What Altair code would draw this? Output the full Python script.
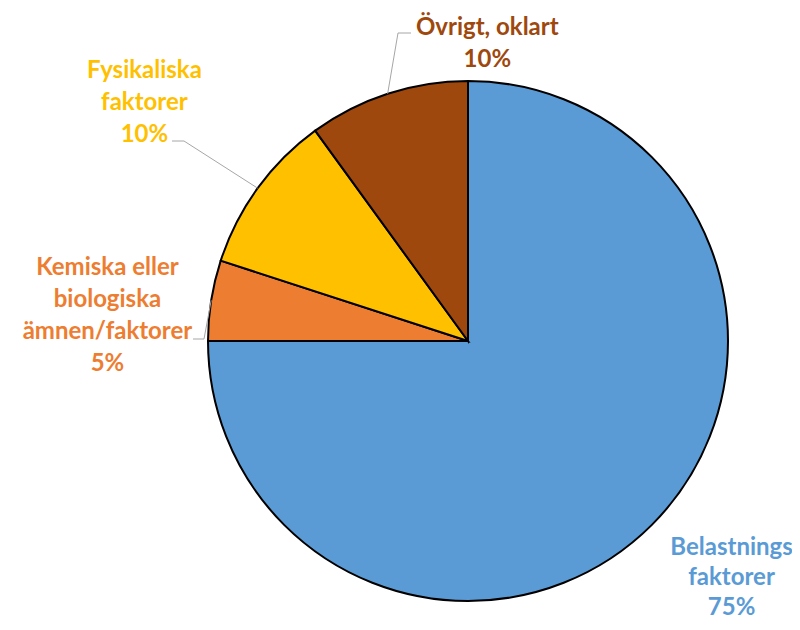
import altair as alt
import pandas as pd

categories = ["Belastnings faktorer", "Kemiska eller biologiska ämnen/faktorer",
              "Fysikaliska faktorer", "Övrigt, oklart"]
label_lines = [["Belastnings", "faktorer"],
               ["Kemiska eller", "biologiska", "ämnen/faktorer"],
               ["Fysikaliska", "faktorer"],
               ["Övrigt, oklart"]]
values = [75, 5, 10, 10]
colors = ["#5B9BD5", "#ED7D31", "#FFC000", "#9E480E"]

df = pd.DataFrame({
    "category": categories,
    "value": values,
    "order": list(range(len(categories))),
    "label": ["\n".join(l + [f"{v}%"]) for l, v in zip(label_lines, values)],
})

W, H = 784, 614
CX, CY, R = 460, 333, 260
FONT = "Lato"

color_scale = alt.Scale(domain=categories, range=colors)

base = (alt.Chart(df)
        .transform_joinaggregate(total="sum(value)")
        .transform_window(cum="sum(value)", sort=[alt.SortField("order")], frame=[None, 0])
        .transform_calculate(mid="2*PI*(datum.cum - datum.value/2)/datum.total"))

pie = alt.Chart(df).mark_arc(radius=R, stroke="black", strokeWidth=2).encode(
    theta=alt.Theta("value:Q", stack=True),
    color=alt.Color("category:N", scale=color_scale, legend=None),
    order=alt.Order("order:Q"),
    x=alt.value(CX), y=alt.value(CY),
)

# label placement: (radius from centre, dx, dy, line height) -- dy refers to the first line
label_pos = {
    categories[0]: (360, 9, -48, 30),
    categories[1]: (360, -5, -17, 32),
    categories[2]: (400, 0, -35, 32),
    categories[3]: (300, 112, -28, 32),
}

layers = [pie]

# leader lines: elbow and end points (chart pixels)
leaders = {
    categories[1]: ((196, 331), (185, 331)),
    categories[2]: ((176, 133), (164, 133)),
    categories[3]: ((390, 25), (403, 25)),
}
for cat, (elbow, end) in leaders.items():
    seg = (base.transform_filter(alt.datum.category == cat)
           .transform_calculate(px=f"{CX} + {R}*sin(datum.mid)", py=f"{CY} - {R}*cos(datum.mid)")
           .mark_rule(color="#A6A6A6", strokeWidth=1)
           .encode(x=alt.X("px:Q", scale=None, axis=None), y=alt.Y("py:Q", scale=None, axis=None),
                   x2=alt.value(elbow[0]), y2=alt.value(elbow[1])))
    seg2 = (base.transform_filter(alt.datum.category == cat)
            .mark_rule(color="#A6A6A6", strokeWidth=1)
            .encode(x=alt.value(elbow[0]), y=alt.value(elbow[1]),
                    x2=alt.value(end[0]), y2=alt.value(end[1])))
    layers += [seg, seg2]

for cat, (r, dx, dy, lh) in label_pos.items():
    t = (base.transform_filter(alt.datum.category == cat)
         .transform_calculate(px=f"{CX} + {r}*sin(datum.mid)", py=f"{CY} - {r}*cos(datum.mid)")
         .mark_text(dx=dx, dy=dy, lineBreak="\n", lineHeight=lh, font=FONT, fontSize=24,
                    fontWeight="bold", align="center", baseline="middle")
         .encode(x=alt.X("px:Q", scale=None, axis=None), y=alt.Y("py:Q", scale=None, axis=None),
                 text="label:N",
                 color=alt.Color("category:N", scale=color_scale, legend=None)))
    layers.append(t)

chart = alt.layer(*layers).properties(
    width=W, height=H, padding=0, autosize=alt.AutoSizeParams(type="none"),
    background="white",
).configure_view(stroke=None)

chart.save("out.html", embed_options={"renderer": "svg", "actions": False})
